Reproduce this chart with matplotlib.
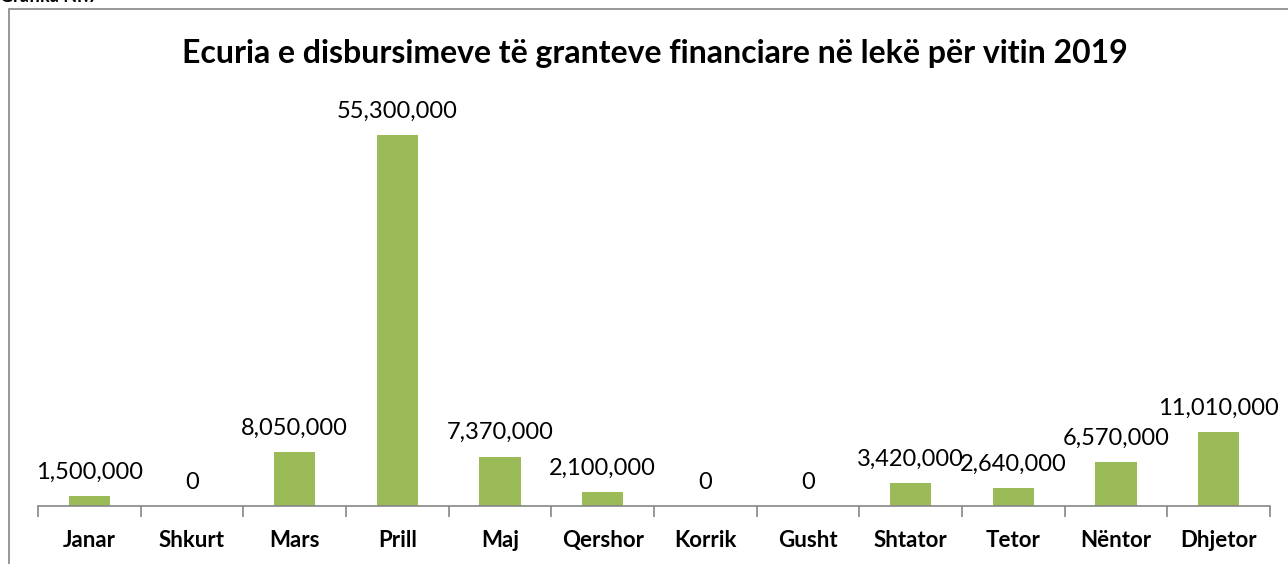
import matplotlib.pyplot as plt
from matplotlib.patches import Rectangle

plt.rcParams['font.family'] = ['Lato', 'DejaVu Sans']

months = ["Janar", "Shkurt", "Mars", "Prill", "Maj", "Qershor",
          "Korrik", "Gusht", "Shtator", "Tetor", "Nëntor", "Dhjetor"]
values = [1500000, 0, 8050000, 55300000, 7370000, 2100000,
          0, 0, 3420000, 2640000, 6570000, 11010000]

W, H = 1288, 564
fig = plt.figure(figsize=(W / 100, H / 100), dpi=100)

# outer chart border (cut off at right/bottom)
fig.patches.append(Rectangle((9 / W, -0.05), 1.1, 1 - 9 / H + 0.05,
                             transform=fig.transFigure, fill=False,
                             edgecolor='#868686', linewidth=1.2))
fig.text(0, 1 - 5 / H, "Grafika Nr.7", fontsize=13, fontweight='bold',
         ha='left', va='bottom')

ax = fig.add_axes([38 / W, (H - 506) / H, (1270 - 38) / W, 406 / H])
x = range(len(months))
ax.bar(x, values, width=0.4, color='#9bbb59')
ax.set_xlim(-0.5, len(months) - 0.5)
ax.set_ylim(0, 60500000)

for xi, v in zip(x, values):
    ax.text(xi, v + 2000000, f"{v:,}", ha='center', va='bottom', fontsize=17)

for s in ['top', 'right', 'left']:
    ax.spines[s].set_visible(False)
ax.spines['bottom'].set_color('#868686')
ax.spines['bottom'].set_linewidth(1.2)
ax.set_yticks([])
ax.set_xticks([i - 0.5 for i in range(len(months) + 1)], minor=False)
ax.set_xticklabels([])
ax.tick_params(axis='x', length=8, color='#868686', width=1.2)
ax.set_xticks(list(x), minor=True)
ax.set_xticklabels(months, minor=True, fontsize=16, fontweight='bold')
ax.tick_params(axis='x', which='minor', length=0, pad=17)

fig.text(655 / W, 1 - 54 / H, "Ecuria e disbursimeve të granteve financiare në lekë për vitin 2019",
         ha='center', va='center', fontsize=23, fontweight='bold')

fig.savefig('out.png', dpi=100)
